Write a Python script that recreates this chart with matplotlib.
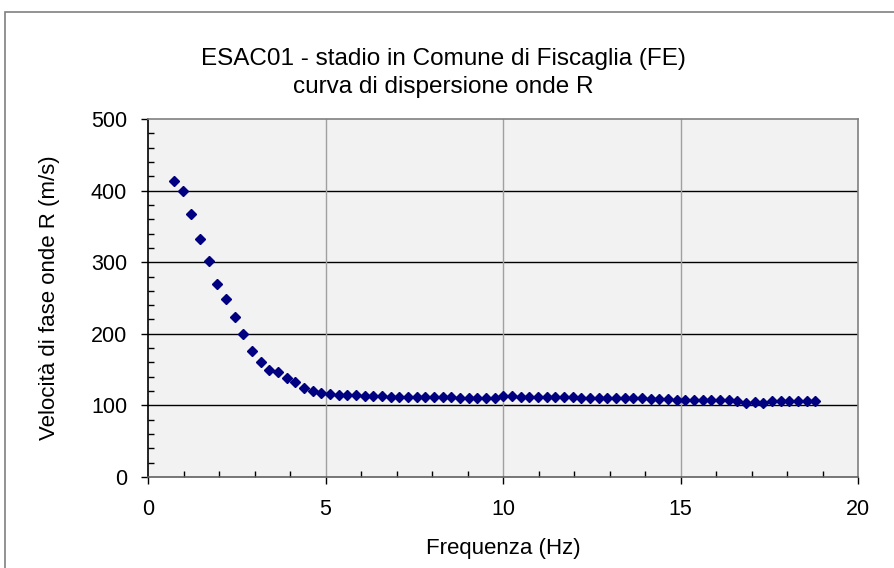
import matplotlib.pyplot as plt
from matplotlib.patches import Rectangle
from matplotlib.ticker import MultipleLocator

plt.rcParams['font.family'] = ['Liberation Sans', 'DejaVu Sans']

# frequenze (Hz) e velocita' di fase delle onde R (m/s)
freq = [0.732, 0.977, 1.221, 1.465, 1.709, 1.953, 2.197, 2.441, 2.686, 2.930,
        3.174, 3.418, 3.662, 3.906, 4.150, 4.395, 4.639, 4.883, 5.127, 5.371,
        5.615, 5.859, 6.104, 6.348, 6.592, 6.836, 7.080, 7.324, 7.568, 7.813,
        8.057, 8.301, 8.545, 8.789, 9.033, 9.277, 9.521, 9.766, 10.010, 10.254,
        10.498, 10.742, 10.986, 11.230, 11.475, 11.719, 11.963, 12.207, 12.451, 12.695,
        12.939, 13.184, 13.428, 13.672, 13.916, 14.160, 14.404, 14.648, 14.893, 15.137,
        15.381, 15.625, 15.869, 16.113, 16.357, 16.602, 16.846, 17.090, 17.334, 17.578,
        17.822, 18.066, 18.311, 18.555, 18.799]
vel = [414, 400, 367, 333, 301, 270, 249, 223, 200, 176,
       161, 150, 146, 138, 133, 125, 120, 118, 116, 115,
       114, 114, 113, 113, 112.5, 112, 112, 112, 112, 112,
       112, 112, 111.5, 111, 111, 110.5, 110, 110.5, 113, 112.5,
       112, 112, 112, 112, 112, 112, 111.5, 111, 111, 111,
       110.5, 110, 110, 110, 110, 109.5, 109, 108.5, 108, 107.5,
       107, 107, 107, 107, 107, 106.5, 104, 105, 104, 106.5,
       106, 106, 105.5, 105.5, 105.5]

titolo = 'ESAC01 - stadio in Comune di Fiscaglia (FE)\ncurva di dispersione onde R'

fig = plt.figure(figsize=(8.94, 5.68), dpi=100)
fig.patches.append(Rectangle((5 / 894, -0.1), 1.0, 1.1 - 12 / 568,
                             transform=fig.transFigure, fill=False,
                             edgecolor='#808080', linewidth=1.2))

ax = fig.add_axes([148 / 894, 1 - 477 / 568, 710 / 894, 358 / 568])
ax.set_facecolor('#F2F2F2')

ax.set_xlim(0, 20)
ax.set_ylim(0, 500)
ax.xaxis.set_major_locator(MultipleLocator(5))
ax.xaxis.set_minor_locator(MultipleLocator(1))
ax.yaxis.set_major_locator(MultipleLocator(100))
ax.yaxis.set_minor_locator(MultipleLocator(20))

# griglia: orizzontale nera, verticale grigia
for v in [100, 200, 300, 400]:
    ax.axhline(v, color='black', linewidth=1.0, zorder=1)
for f in [5, 10, 15]:
    ax.axvline(f, color='#A0A0A0', linewidth=1.0, zorder=1)

ax.plot(freq, vel, linestyle='none', marker='D', markersize=5.2,
        color='#000080', markeredgecolor='#000080', zorder=3, clip_on=False)

for s in ['top', 'right']:
    ax.spines[s].set_color('#808080')
ax.spines['bottom'].set_color('#606060')
ax.spines['left'].set_color('black')
for s in ax.spines.values():
    s.set_linewidth(1.2)

ax.tick_params(which='major', direction='out', length=5, width=1, labelsize=15.5)
ax.tick_params(axis='y', which='major', pad=10)
ax.tick_params(axis='x', which='major', pad=11)
ax.tick_params(which='minor', direction='in', length=4, width=1)

ax.set_xlabel('Frequenza (Hz)', fontsize=16, labelpad=13)
ax.set_ylabel('Velocità di fase onde R (m/s)', fontsize=16, labelpad=22)

fig.text(443 / 894, 1 - 73 / 568, titolo, ha='center', va='center',
         fontsize=17.5, linespacing=1.35)

fig.savefig('out.png', dpi=100)
